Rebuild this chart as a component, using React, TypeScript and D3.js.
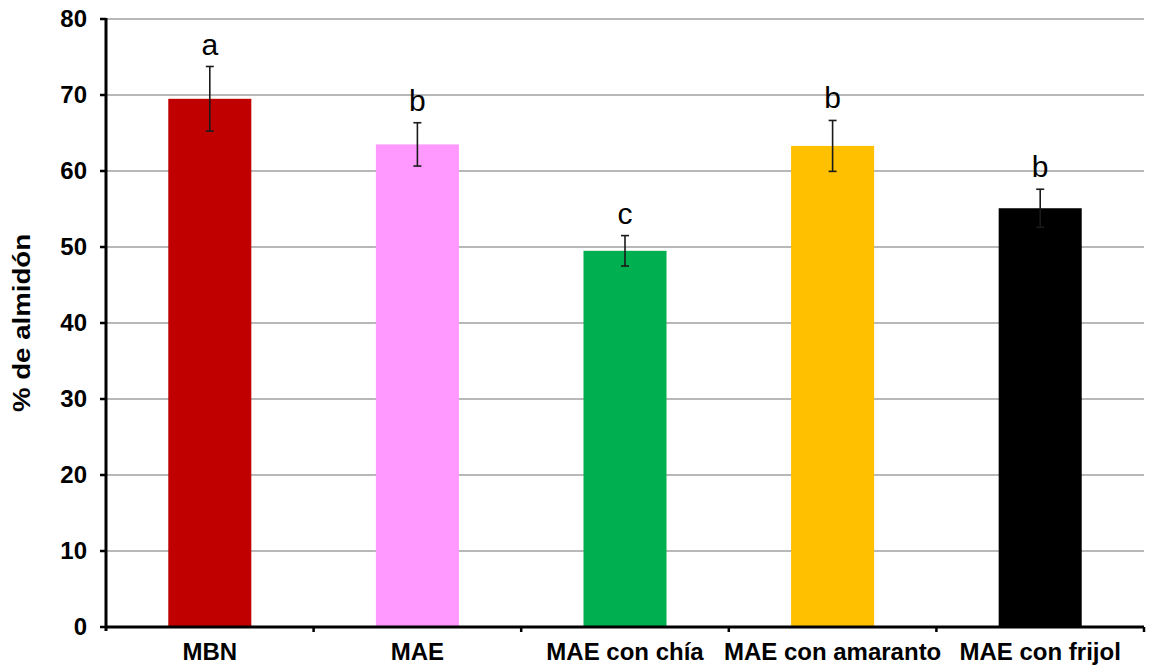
import React from "react";
import * as d3 from "d3";

// Contenido de almidón por tipo de masa
const categories = ["MBN", "MAE", "MAE con chía", "MAE con amaranto", "MAE con frijol"];
const means = [69.5, 63.5, 49.5, 63.3, 55.1];
const errors = [4.25, 2.85, 2.0, 3.35, 2.5];
const letters = ["a", "b", "c", "b", "b"];
const colors = ["#C00000", "#FF99FF", "#00B050", "#FFC000", "#000000"];
const yTicks = [0, 10, 20, 30, 40, 50, 60, 70, 80];

const W = 1151;
const H = 665;
const margin = { left: 106, right: 7, top: 19, bottom: 38 };

export default function App() {
  const x = d3
    .scaleBand<string>()
    .domain(categories)
    .range([margin.left, W - margin.right])
    .paddingInner(0.6)
    .paddingOuter(0.3);
  const y = d3.scaleLinear().domain([0, 80]).range([H - margin.bottom, margin.top]);
  const x0 = margin.left;
  const x1 = W - margin.right;
  const y0 = y(0);
  const step = (x1 - x0) / categories.length;
  const font = "Arial, 'Liberation Sans', sans-serif";

  return (
    <svg
      width={W}
      height={H}
      style={{ position: "absolute", left: 0, top: 0, background: "#fff" }}
      fontFamily={font}
    >
      {/* líneas de cuadrícula */}
      {yTicks.filter((t) => t > 0).map((t) => (
        <line key={t} x1={x0} x2={x1} y1={y(t)} y2={y(t)} stroke="#a0a0a0" strokeWidth={1.3} />
      ))}

      {/* barras */}
      {categories.map((c, i) => (
        <rect
          key={c}
          x={x(c)}
          y={y(means[i])}
          width={x.bandwidth()}
          height={y0 - y(means[i])}
          fill={colors[i]}
        />
      ))}

      {/* barras de error */}
      {categories.map((c, i) => {
        const cx = (x(c) as number) + x.bandwidth() / 2;
        const top = y(means[i] + errors[i]);
        const bot = y(means[i] - errors[i]);
        return (
          <g key={c} stroke="#1a1a1a" strokeWidth={1.6}>
            <line x1={cx} x2={cx} y1={top} y2={bot} />
            <line x1={cx - 4} x2={cx + 4} y1={top} y2={top} />
            <line x1={cx - 4} x2={cx + 4} y1={bot} y2={bot} />
          </g>
        );
      })}

      {/* letras de significancia */}
      {categories.map((c, i) => {
        const cx = (x(c) as number) + x.bandwidth() / 2;
        return (
          <text
            key={c}
            x={cx}
            y={y(means[i] + errors[i]) - 12}
            textAnchor="middle"
            fontSize={30}
            fill="#000"
          >
            {letters[i]}
          </text>
        );
      })}

      {/* eje Y */}
      <line x1={x0} x2={x0} y1={margin.top - 1} y2={y0 + 4} stroke="#000" strokeWidth={3} />
      {yTicks.map((t) => (
        <g key={t}>
          <line x1={x0 - 6} x2={x0} y1={y(t)} y2={y(t)} stroke="#000" strokeWidth={2.5} />
          <text
            x={x0 - 19}
            y={y(t)}
            dy="0.35em"
            textAnchor="end"
            fontSize={24}
            fontWeight="bold"
            fill="#000"
          >
            {t}
          </text>
        </g>
      ))}

      {/* eje X */}
      <line x1={x0} x2={x1} y1={y0} y2={y0} stroke="#000" strokeWidth={3} />
      {categories.map((c, i) => (
        <line
          key={c}
          x1={x0 + step * (i + 1)}
          x2={x0 + step * (i + 1)}
          y1={y0}
          y2={y0 + 5}
          stroke="#000"
          strokeWidth={2.5}
        />
      ))}
      {categories.map((c) => (
        <text
          key={c}
          x={(x(c) as number) + x.bandwidth() / 2}
          y={y0 + 33}
          textAnchor="middle"
          fontSize={24}
          fontWeight="bold"
          fill="#000"
        >
          {c}
        </text>
      ))}

      {/* título del eje Y */}
      <text
        transform={`translate(30, ${(margin.top + y0) / 2}) rotate(-90)`}
        textAnchor="middle"
        fontSize={24}
        fontWeight="bold"
        fill="#000"
        textLength={178}
        lengthAdjust="spacingAndGlyphs"
      >
        % de almidón
      </text>
    </svg>
  );
}
